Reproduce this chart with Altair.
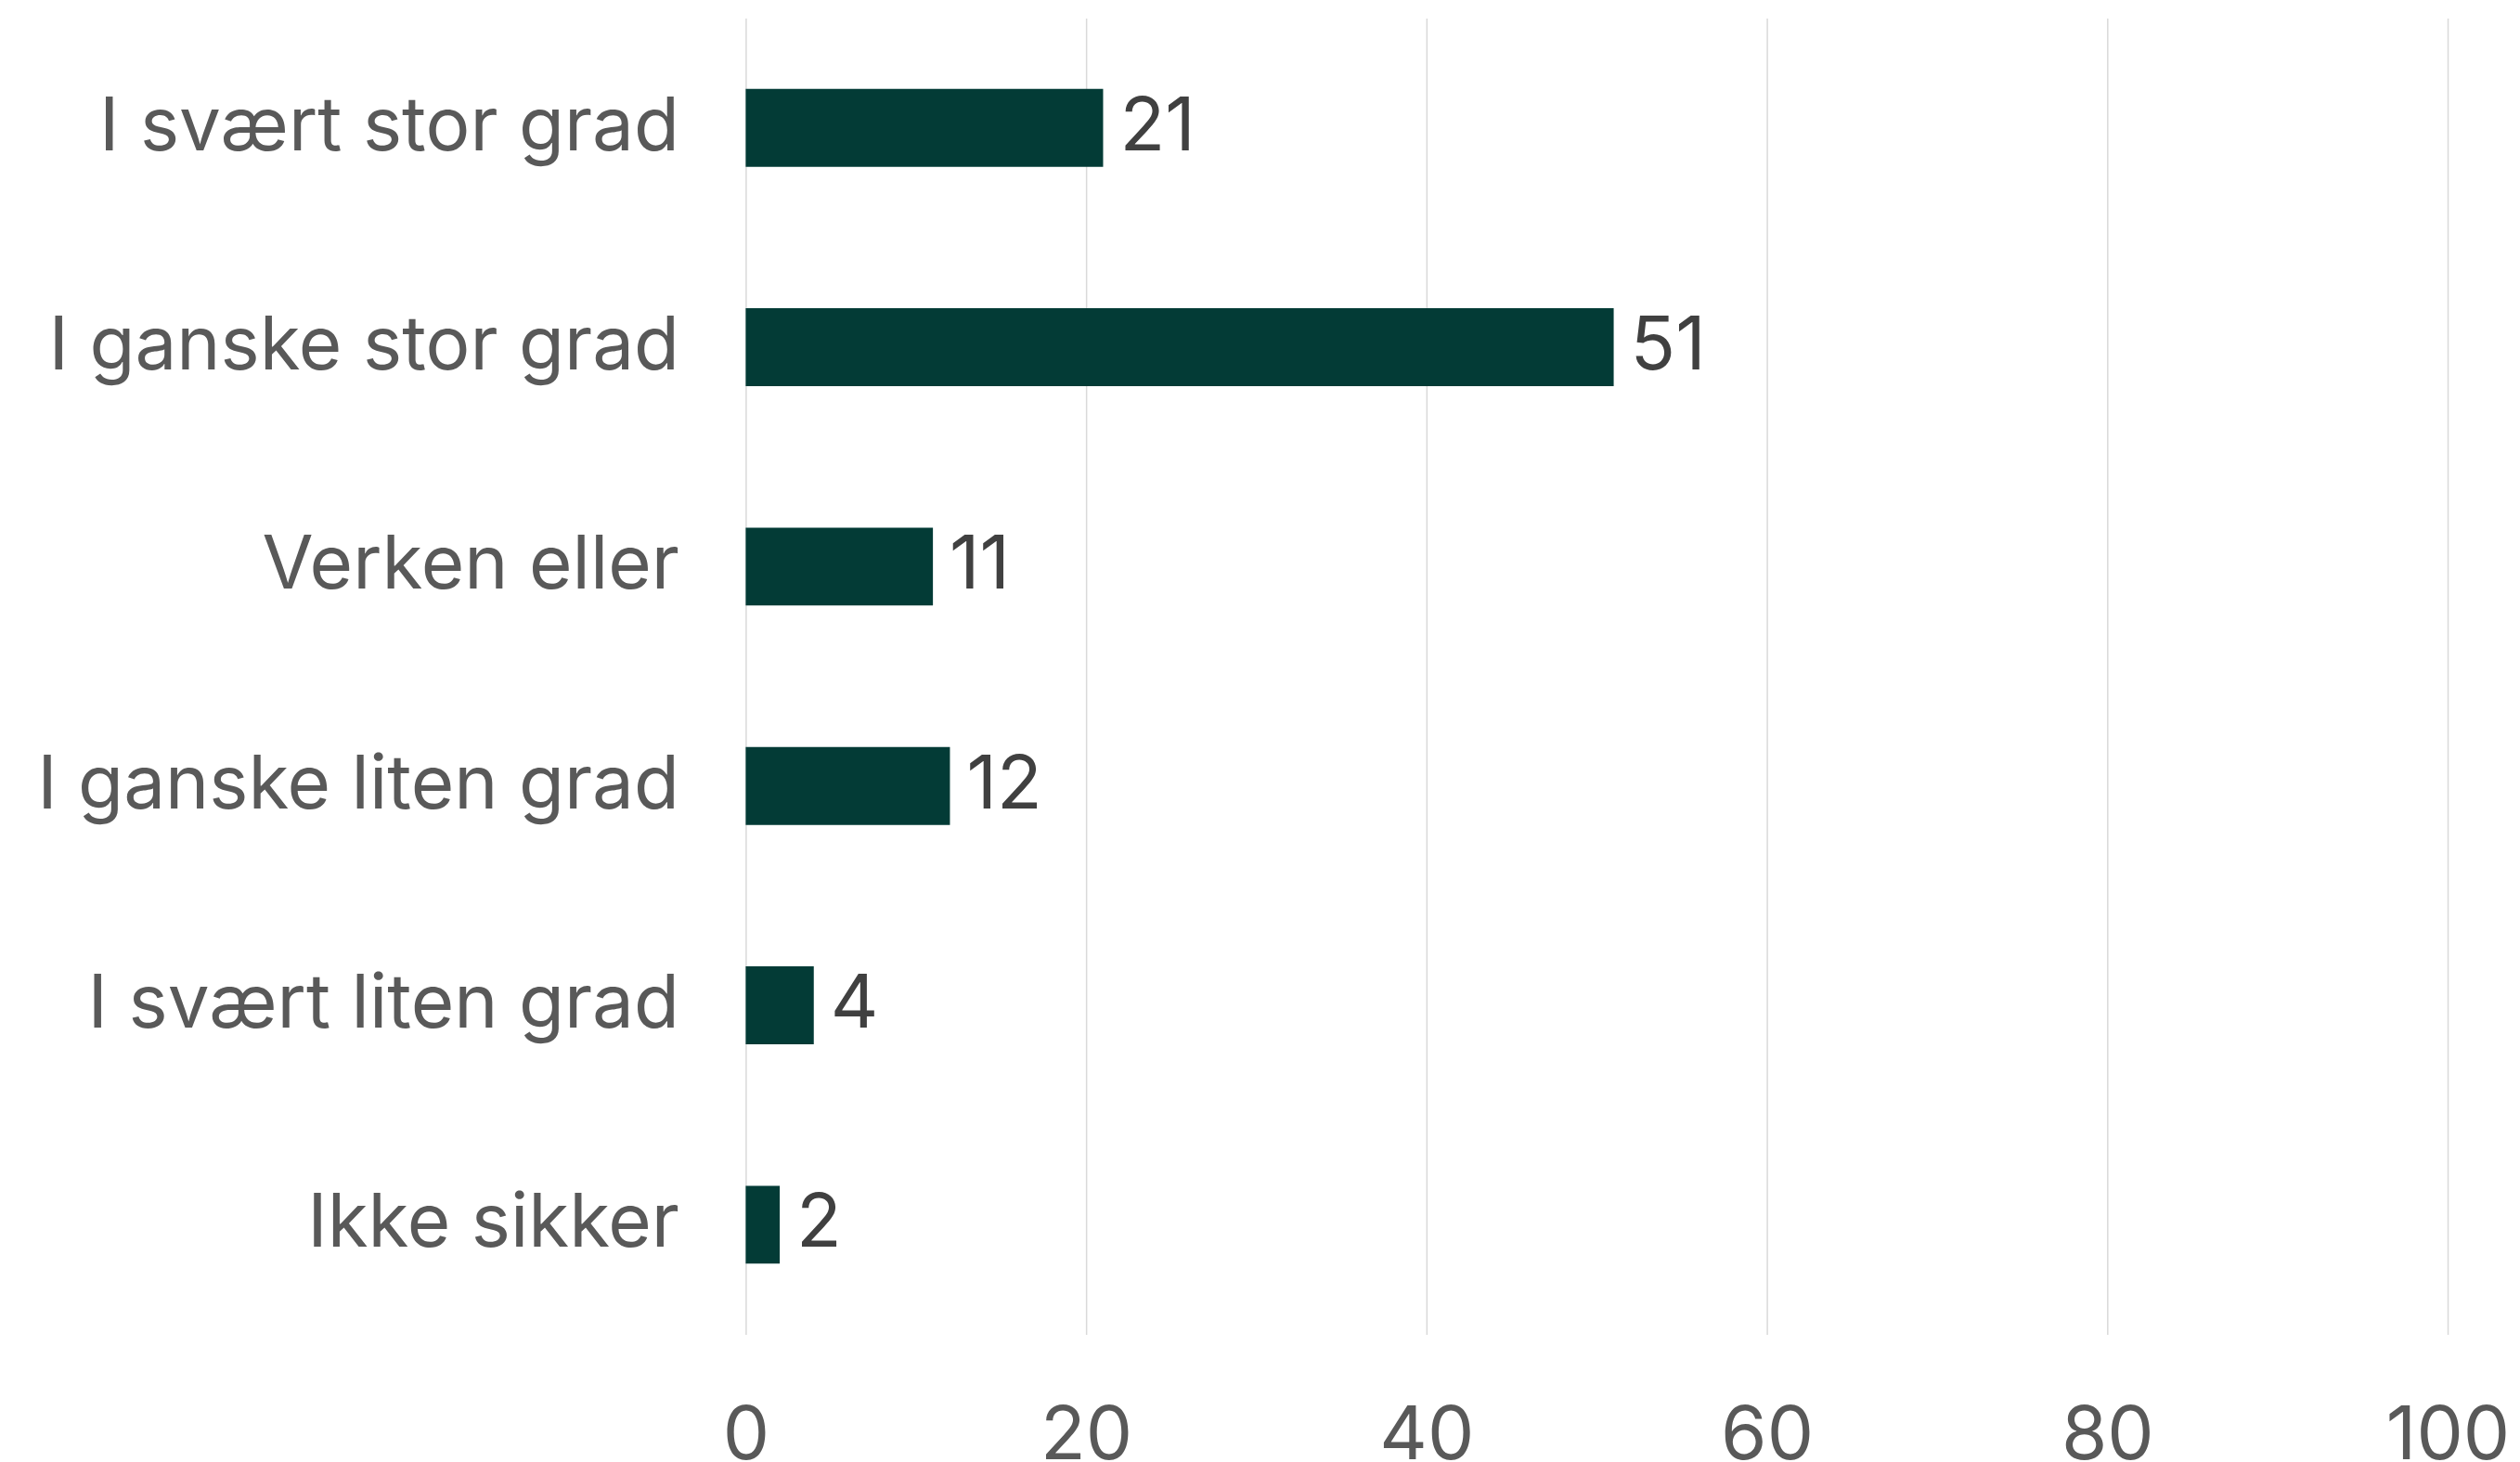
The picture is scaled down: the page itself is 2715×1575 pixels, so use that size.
import altair as alt
import pandas as pd

categories = ["I svært stor grad", "I ganske stor grad", "Verken eller",
              "I ganske liten grad", "I svært liten grad", "Ikke sikker"]
values = [21, 51, 11, 12, 4, 2]
x_ticks = [0, 20, 40, 60, 80, 100]

df = pd.DataFrame({"category": categories, "value": values})

FONT = "Inter"

y_enc = alt.Y("category:N", sort=categories, title=None,
              scale=alt.Scale(paddingInner=0.645, paddingOuter=0.3225),
              axis=alt.Axis(labelFontSize=80, labelColor="#595959", labelFont=FONT,
                            labelPadding=72, ticks=False, domain=False, grid=False,
                            labelLimit=1000))
x_enc = alt.X("value:Q", title=None,
              scale=alt.Scale(domain=[0, 100], nice=False),
              axis=alt.Axis(values=x_ticks, labelFontSize=80, labelColor="#595959",
                            labelFont=FONT, labelPadding=71, ticks=False, domain=False,
                            labelFlush=False, labelOverlap=False,
                            grid=True, gridColor="#d9d9d9", gridWidth=1.5))

bars = alt.Chart(df).mark_bar(color="#033b36").encode(x=x_enc, y=y_enc)
labels = alt.Chart(df).mark_text(align="left", baseline="middle", dx=18,
                                 fontSize=80, font=FONT, color="#404040").encode(
    x=alt.X("value:Q"), y=alt.Y("category:N", sort=categories),
    text="value:Q")

chart = (bars + labels).properties(
    width=1835, height=1419,
    background="white",
    autosize=alt.AutoSizeParams(type="none"),
    padding={"left": 796, "top": 11, "right": 70, "bottom": 137},
).configure_view(strokeWidth=0, stroke="transparent")

chart.save("out.html", embed_options={"renderer": "svg", "actions": False})
